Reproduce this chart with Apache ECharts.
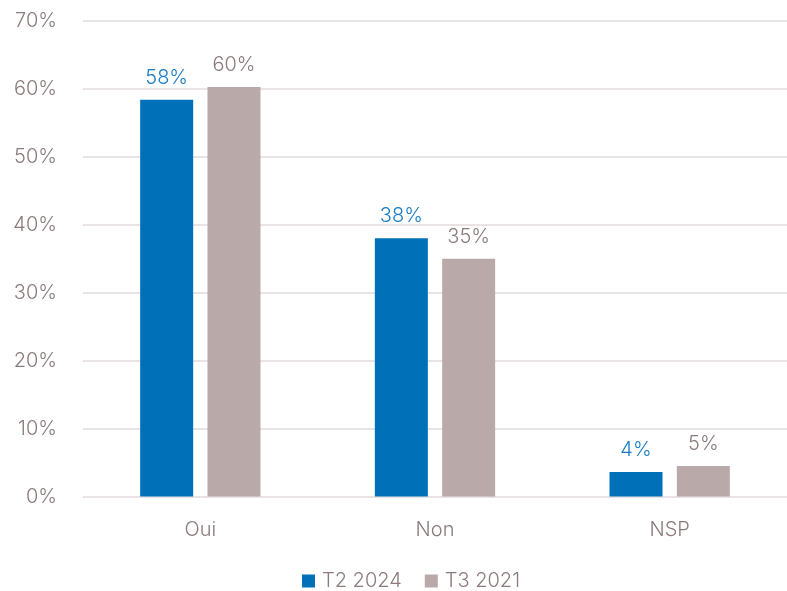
<!DOCTYPE html>
<html>
<head>
<meta charset="utf-8">
<script src="https://cdn.jsdelivr.net/npm/echarts@6/dist/echarts.min.js"></script>
<style>
  html, body { margin: 0; padding: 0; background: #fff; }
  #chart { width: 787px; height: 591px; }
</style>
</head>
<body>
<div id="chart"></div>
<script>
// Réponses par catégorie (%)
const categories = ['Oui', 'Non', 'NSP'];
const seriesNames = ['T2 2024', 'T3 2021'];
const valuesT2_2024 = [58.4, 38.0, 3.6];
const valuesT3_2021 = [60.3, 35.0, 4.5];
const yTicks = [0, 10, 20, 30, 40, 50, 60, 70];

const textColor = '#8B7B7B';
const blue = '#0070B8';
const grey = '#B9AAA9';
const font = 'Inter';
const fs = 20;

const chart = echarts.init(document.getElementById('chart'), null, { renderer: 'canvas' });

function pct(p) { return Math.round(p.value) + '%'; }

chart.setOption({
  animation: false,
  textStyle: { fontFamily: font },
  grid: { left: 83, width: 708, top: 21, height: 475.5, containLabel: false },
  legend: {
    data: seriesNames,
    top: 566,
    left: 297,
    itemWidth: 13,
    itemHeight: 13,
    itemGap: 23,
    icon: 'rect',
    textStyle: { color: textColor, fontSize: fs, fontWeight: 300, fontFamily: font, padding: [0, 0, 0, 2] }
  },
  xAxis: {
    type: 'category',
    data: categories,
    axisLine: { show: false },
    axisTick: { show: false },
    axisLabel: { color: textColor, fontSize: fs, fontWeight: 300, fontFamily: font, margin: 23 }
  },
  yAxis: {
    type: 'value',
    min: yTicks[0],
    max: yTicks[yTicks.length - 1],
    interval: 10,
    axisLine: { show: false },
    axisTick: { show: false },
    splitLine: { lineStyle: { color: '#E2DADA', width: 1.5 } },
    axisLabel: { color: textColor, fontSize: fs, fontWeight: 300, fontFamily: font, margin: 26, formatter: '{value}%' }
  },
  series: [
    {
      name: seriesNames[0],
      type: 'bar',
      data: valuesT2_2024,
      barWidth: 53,
      barGap: '27%',
      itemStyle: { color: blue },
      label: { show: true, position: 'top', distance: 12, color: '#1A7CC4', fontSize: fs, fontWeight: 300, fontFamily: font, formatter: pct }
    },
    {
      name: seriesNames[1],
      type: 'bar',
      data: valuesT3_2021,
      barWidth: 53,
      itemStyle: { color: grey },
      label: { show: true, position: 'top', distance: 12, color: textColor, fontSize: fs, fontWeight: 300, fontFamily: font, formatter: pct }
    }
  ]
});
</script>
</body>
</html>
